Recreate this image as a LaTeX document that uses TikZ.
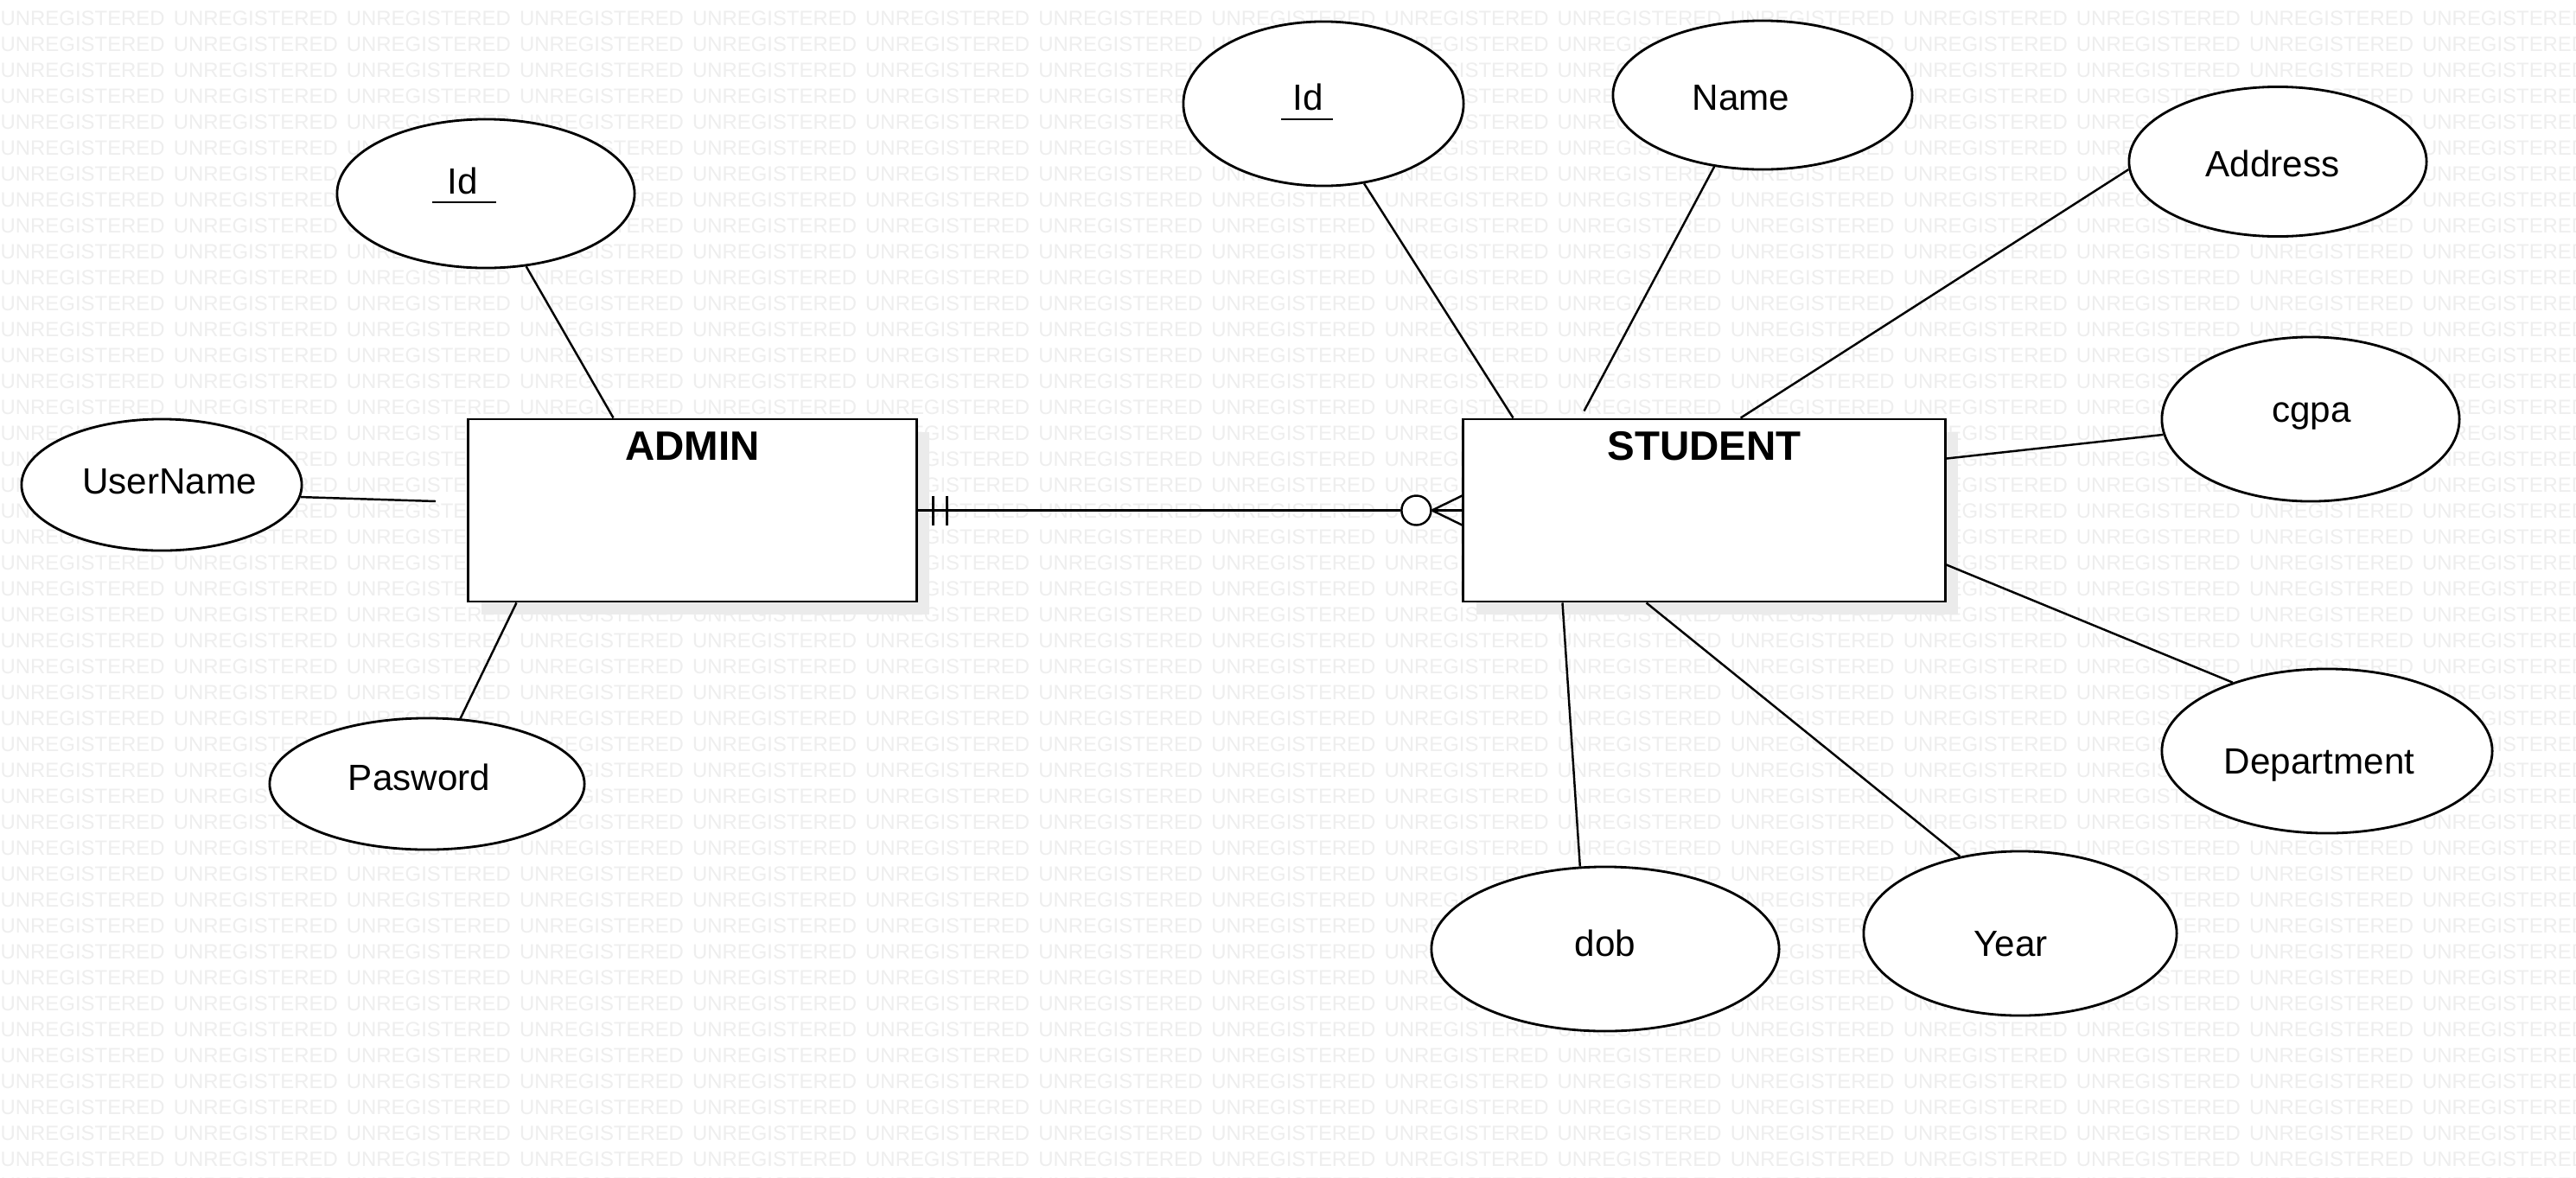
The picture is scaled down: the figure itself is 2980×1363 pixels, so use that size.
\documentclass[tikz,border=0pt]{standalone}
\usepackage{fontspec}
\setmainfont{Liberation Sans}
\usetikzlibrary{shapes.geometric,shadows,positioning}

\definecolor{wmgray}{HTML}{EEEEEE}
\definecolor{shadegray}{HTML}{EBEBEB}

\tikzset{
  wm/.style={font=\fontsize{6.8}{8}\selectfont, text=wmgray, inner sep=0pt, anchor=west},
  entity/.style={draw, line width=0.8pt, fill=white, minimum height=2.11cm,
    drop shadow={shadow xshift=0.15cm, shadow yshift=-0.15cm, fill=shadegray, opacity=1}},
  entitytitle/.style={font=\fontsize{13.5}{16}\selectfont\bfseries, inner sep=0pt, text height=9.7pt, text depth=0pt},
  attr/.style={draw, ellipse, line width=0.8pt, fill=white, inner sep=0pt},
  attrtext/.style={font=\fontsize{12}{14}\selectfont, inner sep=0pt, text height=8.6pt, text depth=0pt},
  conn/.style={line width=0.7pt},
  crowring/.style={circle, draw, line width=0.7pt, fill=white, minimum size=0.34cm, inner sep=0pt},
}

% key attribute: left kern, right kern, drop of the rule, text
\newcommand{\pkey}[4]{\setbox0=\hbox{\kern#1#4\kern#2}\rlap{\rule[-#3]{\wd0}{0.6pt}}\box0}

\begin{document}
\begin{tikzpicture}[x=0.01cm, y=-0.01cm]
  \useasboundingbox (0,0) rectangle (2980,1363);
  \fill[white] (0,0) rectangle (2980,1363);
  % watermark
  \begin{scope}
    \clip (0,0) rectangle (2980,1363);
    \foreach \r in {0,...,45} {
      \node[wm] (wm\r) at (0,{21+30*\r}) {\foreach \k in {1,...,15}{\makebox[2cm][l]{UNREGISTERED}}};
    }
  \end{scope}

  % entities
  \node[entity, minimum width=5.18cm] (admin) at (801,590.5) {};
  \node[entity, minimum width=5.57cm] (student) at (1971.5,590.5) {};
  \node[entitytitle, below=0.14cm of admin.north] (admin-t) {ADMIN};
  \node[entitytitle, below=0.14cm of student.north] (student-t) {STUDENT};

  % attributes: name/x/y/width/height/text x/text y/text
  \foreach \nm/\x/\y/\w/\h/\tx/\ty/\txt in {
      aid/562/224/3.44/1.72/537/209/{\pkey{4.8pt}{6pt}{3.1pt}{Id}},
      auser/187/561/3.24/1.52/196/556/UserName,
      apass/494/907/3.64/1.52/485/899/Pasword,
      sid/1531/120/3.24/1.90/1512/112/{\pkey{3.7pt}{3.1pt}{3.4pt}{Id}},
      sname/2039/110/3.46/1.72/2014/112/Name,
      saddr/2635/187/3.44/1.73/2629/189/Address,
      scgpa/2673/485/3.44/1.90/2674/473/cgpa,
      sdept/2692/869/3.82/1.90/2683/880/Department,
      syear/2337/1080/3.62/1.90/2326/1091/Year,
      sdob/1857/1098/4.02/1.90/1857/1091/dob} {
    \node[attr, minimum width=\w cm, minimum height=\h cm] (\nm) at (\x,\y) {};
    \node[attrtext] (\nm-t) at (\tx,\ty) {\txt};
  }

  % attribute links
  \coordinate (ufree) at (504,580);
  \draw[conn] (aid.299) -- ([xshift=1.69cm]admin.north west);
  \draw[conn] (auser.-5) -- (ufree);
  \draw[conn] (apass.63) -- ([xshift=0.57cm]admin.south west);
  \draw[conn] (sid.297) -- ([xshift=0.59cm]student.north west);
  \draw[conn] (sname.236) -- ([xshift=1.41cm,yshift=0.08cm]student.north west);
  \draw[conn] (saddr.183) -- ([xshift=3.22cm]student.north west);
  \draw[conn] (scgpa.186) -- ([yshift=-0.47cm]student.north east);
  \draw[conn] (sdept.144) -- ([yshift=0.44cm]student.south east);
  \draw[conn] (syear.128) -- ([xshift=2.13cm]student.south west);
  \draw[conn] (sdob.107) -- ([xshift=1.16cm]student.south west);

  % relationship: one and only one to zero or many
  \node[crowring] (zero) at ([xshift=-0.53cm]student.west) {};
  \draw[conn] (admin.east) -- (zero.west);
  \draw[conn] (zero.east) -- (student.west);
  \draw[conn] (zero.east) -- ([yshift=0.17cm]student.west);
  \draw[conn] (zero.east) -- ([yshift=-0.17cm]student.west);
  \foreach \dx in {0.18,0.34} {
    \draw[conn] ([xshift=\dx cm,yshift=0.17cm]admin.east) -- ([xshift=\dx cm,yshift=-0.17cm]admin.east);
  }
\end{tikzpicture}
\end{document}
